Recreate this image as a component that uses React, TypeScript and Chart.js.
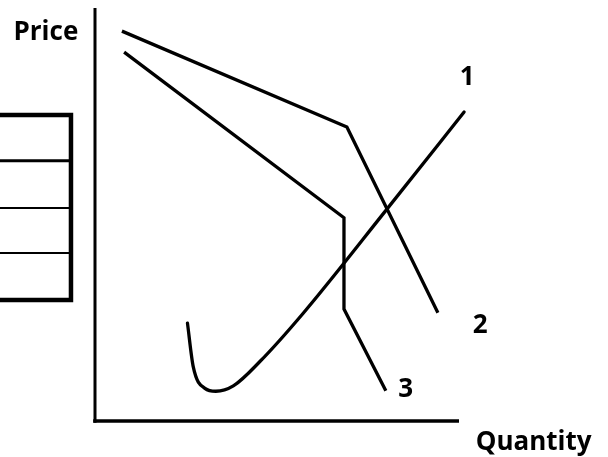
import React, { useEffect, useRef } from "react";
import { Chart, registerables } from "chart.js";

Chart.register(...registerables);

// Curve 1 (U-shaped rising curve)
const curve1Q = [25.4, 27.0, 30.2, 33.2, 38.0, 45.3, 57.2, 80.2, 101.4];
const curve1P = [23.7, 13.1, 7.9, 7.2, 8.5, 14.4, 26.1, 51.3, 74.8];

// Curve 2 (kinked demand)
const curve2Q = [7.4, 69.2, 94.2];
const curve2P = [94.4, 71.2, 26.2];

// Curve 3 (kinked with vertical gap)
const curve3Q = [8.0, 68.4, 68.4, 79.9];
const curve3P = [89.3, 49.2, 27.1, 7.3];

// Axes
const priceAxisQ = [0, 0];
const priceAxisP = [100, -0.4];
const quantityAxisQ = [-0.5, 100];
const quantityAxisP = [0, 0];

// Table at the left edge
const tableLeftQ = -30;
const tableRightQ = -6.6;
const tableTopP = 74.1;
const tableBottomP = 29.3;
const tableRowP = [63.0, 51.6, 40.7];

// Text labels
const labelTexts = ["Price", "1", "2", "3", "Quantity"];
const labelQ = [-22.4, 100.2, 103.8, 83.3, 104.6];
const labelP = [92.3, 81.4, 21.3, 5.8, -7.0];

const toPoints = (qs: number[], ps: number[]) => qs.map((q, i) => ({ x: q, y: ps[i] }));

const labelPlugin = {
  id: "textLabels",
  afterDatasetsDraw(chart: any) {
    const { ctx, scales } = chart;
    ctx.save();
    ctx.fillStyle = "#000";
    ctx.font = "bold 26px 'Open Sans'";
    ctx.textAlign = "left";
    ctx.textBaseline = "alphabetic";
    labelTexts.forEach((t, i) => {
      ctx.fillText(t, scales.x.getPixelForValue(labelQ[i]), scales.y.getPixelForValue(labelP[i]));
    });
    ctx.restore();
  },
};

export default function App() {
  const ref = useRef<HTMLCanvasElement | null>(null);
  useEffect(() => {
    if (!ref.current) return;
    const base = {
      showLine: true,
      borderColor: "#000",
      backgroundColor: "#000",
      pointRadius: 0,
      pointHoverRadius: 0,
      fill: false,
      clip: false as any,
      borderCapStyle: "butt" as const,
      borderJoinStyle: "miter" as const,
    };
    const tableOutline = toPoints(
      [tableLeftQ, tableRightQ, tableRightQ, tableLeftQ],
      [tableTopP, tableTopP, tableBottomP, tableBottomP]
    );
    const rowWidths = [3, 2, 2];
    const chart = new Chart(ref.current, {
      type: "scatter",
      data: {
        datasets: [
          { ...base, data: toPoints(priceAxisQ, priceAxisP), borderWidth: 3 },
          { ...base, data: toPoints(quantityAxisQ, quantityAxisP), borderWidth: 3.5 },
          { ...base, data: tableOutline, borderWidth: 4.5 },
          ...tableRowP.map((p, i) => ({
            ...base,
            data: toPoints([tableLeftQ, tableRightQ], [p, p]),
            borderWidth: rowWidths[i],
          })),
          { ...base, data: toPoints(curve2Q, curve2P), borderWidth: 3.3 },
          { ...base, data: toPoints(curve3Q, curve3P), borderWidth: 3.3 },
          {
            ...base,
            data: toPoints(curve1Q, curve1P),
            borderWidth: 3.3,
            cubicInterpolationMode: "monotone" as const,
            borderCapStyle: "round" as const,
          },
        ],
      },
      options: {
        animation: false,
        responsive: true,
        maintainAspectRatio: false,
        layout: { padding: { left: 95, top: 8, right: 149, bottom: 36 } },
        scales: {
          x: { type: "linear", min: 0, max: 100, display: false },
          y: { type: "linear", min: 0, max: 100, display: false },
        },
        plugins: { legend: { display: false }, tooltip: { enabled: false } },
        events: [],
      },
      plugins: [labelPlugin],
    });
    return () => chart.destroy();
  }, []);
  return (
    <div style={{ position: "fixed", left: 0, top: 0, width: 608, height: 457, background: "#fff" }}>
      <canvas ref={ref} />
    </div>
  );
}
